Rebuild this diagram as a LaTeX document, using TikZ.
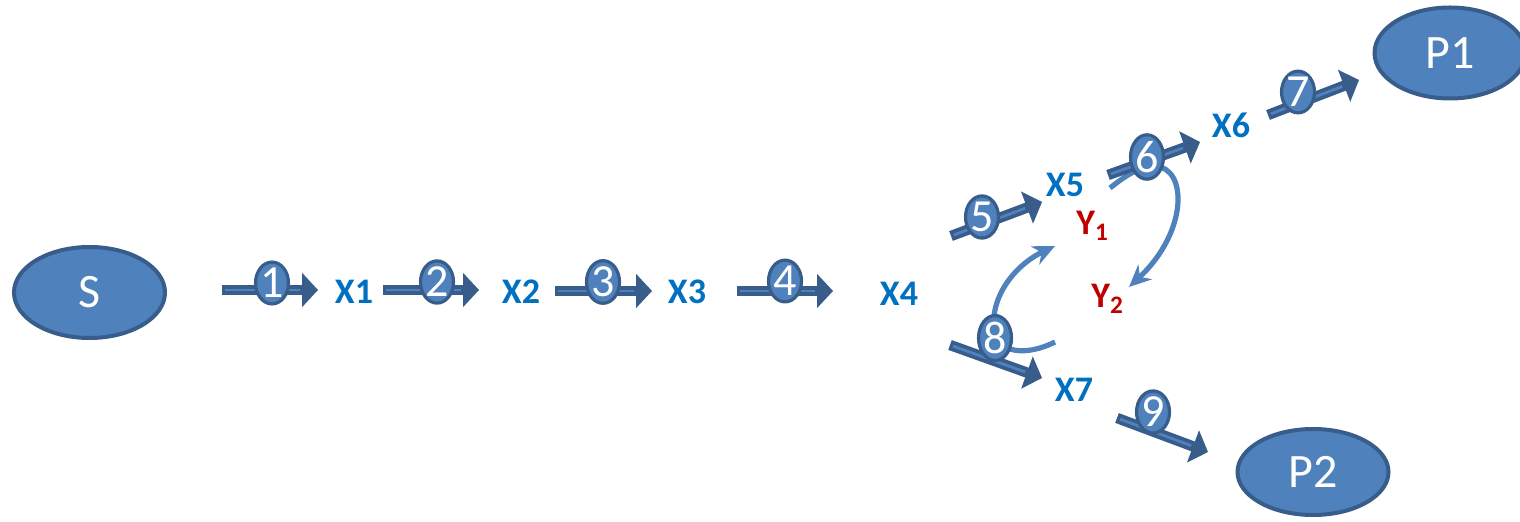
\documentclass[tikz,border=0pt]{standalone}
\usepackage{fontspec}
\setmainfont{Carlito}
\usetikzlibrary{arrows.meta,shapes.geometric}
\definecolor{discfill}{HTML}{4F81BD}
\definecolor{discedge}{HTML}{385D8A}
\definecolor{labelblue}{HTML}{0070C0}
\definecolor{labelred}{HTML}{C00000}

\begin{document}
\begin{tikzpicture}[
  x=0.5pt, y=-0.5pt,
  every node/.append style={inner sep=0pt},
  endpoint/.style={ellipse, draw=discedge, fill=discfill, line width=2pt,
    minimum width=75.5pt, minimum height=45.5pt, text=white,
    font=\fontsize{24}{24}\selectfont},
  numdisc/.style={ellipse, draw=discedge, fill=discfill, line width=1.6pt,
    minimum width=16pt, minimum height=19.5pt, text=white,
    font=\fontsize{23}{23}\selectfont},
  species/.style={text=labelblue, font=\fontsize{18}{18}\selectfont\bfseries},
  sideprod/.style={anchor=base west, text=labelred,
    font=\fontsize{18}{18}\selectfont\bfseries},
  blockarrow/.style={draw=discedge, line width=5.2pt,
    -{Triangle[length=8pt, width=17pt, line width=1pt]},
    postaction={draw=discfill, line width=1.4pt, -, shorten <=1.6pt,
      shorten >=9pt}},
  swing/.style={draw=discfill, line width=2.6pt,
    -{Stealth[length=11pt, width=10pt]}},
]
\useasboundingbox (0,0) rectangle (1520,522);

% ------------------------------------------------------ start and ends
\node[endpoint] (s) at (89.5,292.5) {S};
\node[endpoint] (p1) at (1450,53) {P1};
\node[endpoint, minimum height=43pt] (p2) at (1313,472) {P2};

% ------------------------------------------------------ the side loops
% Drawn first, so the numbered discs sit on top of them.
\coordinate (loop6a) at (1110,188);
\coordinate (loop6b) at (1129,287);
\draw[swing] (loop6a) .. controls (1125,176) and (1140,166) .. (1155,166)
  .. controls (1188,168) and (1188,232) .. (loop6b);

\coordinate (loop8a) at (1055,342);
\coordinate (loop8b) at (1055,246);
\draw[swing] (loop8a) .. controls (1035,352) and (1010,356) .. (996,340)
  .. controls (985,300) and (1015,265) .. (loop8b);

% ------------------------------------------------------ the nine steps
\foreach \k/\ax/\ay/\bx/\by/\cx/\cy in {
    1/222/290/318/290/272/283,
    2/383/290/479/290/437/282,
    3/555/291/652/291/603/282,
    4/737/291/833/291/785/281,
    5/951/236/1042/202/982/217,
    6/1108/175/1200/142/1147/157,
    7/1268/115/1359/80/1298/92,
    8/950/345/1042/378/995/338,
    9/1117/418/1208/452/1153/412}{
  \coordinate (tail\k) at (\ax,\ay);
  \coordinate (tip\k) at (\bx,\by);
  \draw[blockarrow] (tail\k) -- (tip\k);
  \node[numdisc] (n\k) at (\cx,\cy) {\k};
}

% ------------------------------------------------------ intermediates
\node[species] (x1) at (354,292) {X1};
\node[species] (x2) at (521,292) {X2};
\node[species] (x3) at (687,292) {X3};
\node[species] (x4) at (899,294) {X4};
\node[species] (x5) at (1065,185) {X5};
\node[species] (x6) at (1231,125) {X6};
\node[species] (x7) at (1074,390) {X7};

\node[sideprod] (y1) at (1076,235) {Y\textsubscript{1}};
\node[sideprod] (y2) at (1091,308) {Y\textsubscript{2}};

\end{tikzpicture}
\end{document}
